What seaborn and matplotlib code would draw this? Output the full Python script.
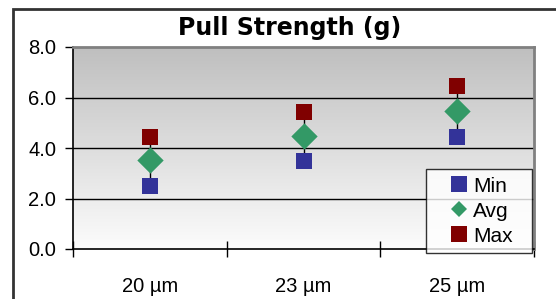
import numpy as np
import pandas as pd
import seaborn as sns
import matplotlib
matplotlib.use("Agg")
import matplotlib.pyplot as plt
from matplotlib.patches import Rectangle
from matplotlib.lines import Line2D

categories = ["20 µm", "23 µm", "25 µm"]
min_vals = [2.5, 3.5, 4.42]
avg_vals = [3.53, 4.48, 5.48]
max_vals = [4.43, 5.42, 6.45]
series_names = ["Min", "Avg", "Max"]
colors = {"Min": "#333399", "Avg": "#339966", "Max": "#800000"}
markers = {"Min": "s", "Avg": "D", "Max": "s"}
yticks = [0, 2, 4, 6, 8]

sns.set_theme(style="white")
plt.rcParams["font.family"] = ["Liberation Sans", "DejaVu Sans"]
plt.rcParams["text.color"] = "black"
plt.rcParams["xtick.color"] = "black"
plt.rcParams["ytick.color"] = "black"
plt.rcParams["xtick.labelcolor"] = "black"
plt.rcParams["ytick.labelcolor"] = "black"

df = pd.DataFrame({
    "cat": categories * 3,
    "value": min_vals + avg_vals + max_vals,
    "series": [s for s in series_names for _ in categories],
})

fig = plt.figure(figsize=(5.56, 2.99), dpi=100)
W, H = 556, 299
ax = fig.add_axes([73 / W, 1 - 249 / H, (534 - 73) / W, (249 - 47) / H])

# gradient background
grad = np.linspace(1, 0, 256).reshape(-1, 1)
cmap = matplotlib.colors.LinearSegmentedColormap.from_list("g", ["#fcfcfc", "#bfbfbf"])
ax.imshow(grad, extent=[0, 1, 0, 1], transform=ax.transAxes, cmap=cmap,
          aspect="auto", zorder=0, origin="upper", vmin=0, vmax=1)

# high-low lines
ax.vlines(range(len(categories)), min_vals, max_vals, color="black", lw=1, zorder=2)

# gridlines
for y in yticks[1:-1]:
    ax.axhline(y, color="black", lw=1, zorder=1)

sizes = {"Min": 130, "Avg": 180, "Max": 130}
for s in series_names:
    sub = df[df.series == s]
    sns.scatterplot(data=sub, x="cat", y="value", color=colors[s], marker=markers[s],
                    s=sizes[s], linewidth=0, ax=ax, zorder=3, legend=False)

ax.set_xlim(-0.5, 2.5)
ax.set_ylim(0, 8)
ax.set_yticks(yticks)
ax.set_yticklabels([f"{v:.1f}" for v in yticks])
ax.set_xticks(range(len(categories)))
ax.set_xticklabels(categories)
ax.set_xticks([-0.5, 0.5, 1.5, 2.5], minor=True)
ax.tick_params(axis="x", which="major", length=0, pad=20, labelsize=14.5, bottom=False)
ax.tick_params(axis="x", which="minor", length=12, width=1, color="black", direction="inout",
               bottom=True)
ax.tick_params(axis="y", which="major", length=6, width=1, color="black", direction="out",
               pad=6, labelsize=14.5, left=True)
ax.set_xlabel("")
ax.set_ylabel("")

for side in ["left", "bottom"]:
    ax.spines[side].set_color("black")
    ax.spines[side].set_linewidth(1.2)
for side in ["top", "right"]:
    ax.spines[side].set_color("#808080")
    ax.spines[side].set_linewidth(2)

leg_sizes = {"Min": 11.5, "Avg": 8.5, "Max": 11.5}
handles = [Line2D([], [], ls="none", marker=markers[s], color=colors[s],
                  markersize=leg_sizes[s], markeredgewidth=0) for s in series_names]
leg = ax.legend(handles, series_names, loc="lower left",
                bbox_to_anchor=((426 - 73) / 461, -4 / 202, 106 / 461, 84 / 202),
                mode="expand", frameon=True, fancybox=False, fontsize=15,
                handletextpad=-0.54, borderpad=0.35, labelspacing=0.29,
                handlelength=2.45, borderaxespad=0)
leg.get_frame().set_edgecolor("black")
leg.get_frame().set_linewidth(1)
leg.get_frame().set_facecolor("white")
leg.set_zorder(5)

fig.text(290 / W, 1 - 28 / H, "Pull Strength (g)", ha="center", va="center",
         fontsize=17, fontweight="bold", family=["DejaVu Sans"], color="black")

# outer chart border
fig.patches.append(Rectangle((13 / W, -0.1), 1.2, 1 - 9 / H + 0.1, transform=fig.transFigure,
                             fill=False, edgecolor="#333333", lw=2, zorder=0))

fig.savefig("out.png", dpi=100)
